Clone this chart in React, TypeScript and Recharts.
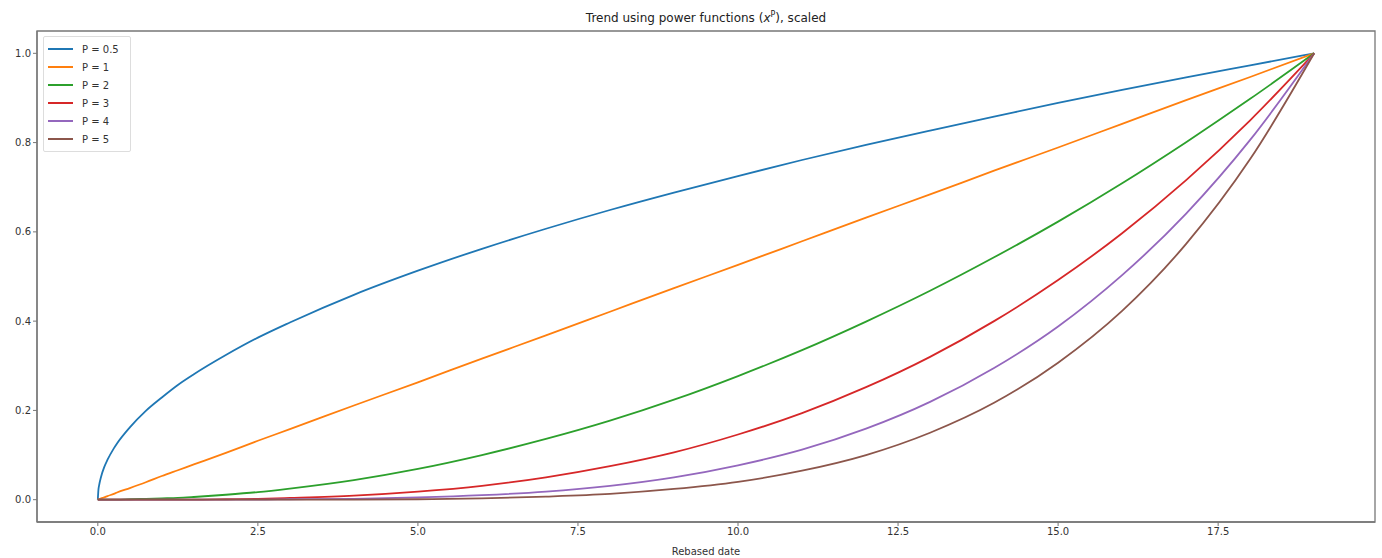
import { LineChart, Line, XAxis, YAxis, ReferenceArea } from "recharts";

const X_VALUES = [
  0, 0.01, 0.02, 0.05, 0.1, 0.15, 0.25, 0.3, 0.5, 0.75, 1, 1.25, 1.5, 2, 2.5,
  3, 4, 5, 6, 7, 8, 9, 10, 11, 12, 13, 14, 15, 16, 17, 18, 19,
];

const P_05 = [
  0, 0.023, 0.032, 0.051, 0.073, 0.089, 0.115, 0.126, 0.162, 0.199, 0.229,
  0.257, 0.281, 0.324, 0.363, 0.397, 0.459, 0.513, 0.562, 0.607, 0.649, 0.688,
  0.725, 0.761, 0.795, 0.827, 0.858, 0.889, 0.918, 0.946, 0.973, 1,
];
const P_1 = [
  0, 0.001, 0.001, 0.003, 0.005, 0.008, 0.013, 0.016, 0.026, 0.039, 0.053,
  0.066, 0.079, 0.105, 0.132, 0.158, 0.211, 0.263, 0.316, 0.368, 0.421, 0.474,
  0.526, 0.579, 0.632, 0.684, 0.737, 0.789, 0.842, 0.895, 0.947, 1,
];
const P_2 = [
  0, 0, 0, 0, 0, 0, 0, 0, 0.001, 0.002, 0.003, 0.004, 0.006, 0.011, 0.017,
  0.025, 0.044, 0.069, 0.1, 0.136, 0.177, 0.224, 0.277, 0.335, 0.399, 0.468,
  0.543, 0.623, 0.709, 0.801, 0.898, 1,
];
const P_3 = [
  0, 0, 0, 0, 0, 0, 0, 0, 0, 0, 0, 0, 0, 0.001, 0.002, 0.004, 0.009, 0.018,
  0.031, 0.05, 0.075, 0.106, 0.146, 0.194, 0.252, 0.32, 0.4, 0.492, 0.597,
  0.716, 0.85, 1,
];
const P_4 = [
  0, 0, 0, 0, 0, 0, 0, 0, 0, 0, 0, 0, 0, 0, 0, 0.001, 0.002, 0.005, 0.01,
  0.018, 0.031, 0.05, 0.077, 0.112, 0.159, 0.219, 0.295, 0.388, 0.503, 0.641,
  0.806, 1,
];
const P_5 = [
  0, 0, 0, 0, 0, 0, 0, 0, 0, 0, 0, 0, 0, 0, 0, 0, 0, 0.001, 0.003, 0.007,
  0.013, 0.024, 0.04, 0.065, 0.1, 0.15, 0.217, 0.307, 0.423, 0.573, 0.763, 1,
];

const X_TICKS = [0, 2.5, 5, 7.5, 10, 12.5, 15, 17.5];
const Y_TICKS = [0, 0.2, 0.4, 0.6, 0.8, 1.0];

const SERIES = [
  { key: "p05", name: "P = 0.5", values: P_05, color: "#1f77b4" },
  { key: "p1", name: "P = 1", values: P_1, color: "#ff7f0e" },
  { key: "p2", name: "P = 2", values: P_2, color: "#2ca02c" },
  { key: "p3", name: "P = 3", values: P_3, color: "#d62728" },
  { key: "p4", name: "P = 4", values: P_4, color: "#9467bd" },
  { key: "p5", name: "P = 5", values: P_5, color: "#8c564b" },
];

const rows = X_VALUES.map((x, i) => {
  const row: { [k: string]: number } = { x };
  SERIES.forEach((s) => {
    row[s.key] = s.values[i];
  });
  return row;
});

const FONT = "'DejaVu Sans', sans-serif";
const tickStyle = { fontSize: 10, fill: "#333", fontFamily: FONT };

export default function App() {
  return (
    <div
      style={{
        position: "absolute",
        left: 0,
        top: 0,
        width: 1382,
        height: 558,
        background: "#fff",
        fontFamily: FONT,
      }}
    >
      <LineChart
        width={1382}
        height={558}
        data={rows}
        margin={{ top: 31, right: 7, bottom: 0, left: 0 }}
      >
        <XAxis
          dataKey="x"
          type="number"
          domain={[-0.95, 19.95]}
          ticks={X_TICKS}
          tickFormatter={(v: number) => v.toFixed(1)}
          tick={tickStyle}
          tickSize={4}
          height={36}
          axisLine={{ stroke: "#777", strokeWidth: 1.3 }}
          tickLine={{ stroke: "#777" }}
          allowDataOverflow
          label={{
            value: "Rebased date",
            position: "insideBottom",
            offset: 3,
            style: { fontSize: 10, fill: "#333", fontFamily: FONT },
          }}
        />
        <YAxis
          type="number"
          domain={[-0.05, 1.05]}
          ticks={Y_TICKS}
          tickFormatter={(v: number) => v.toFixed(1)}
          tick={tickStyle}
          tickSize={4}
          width={37}
          axisLine={{ stroke: "#777", strokeWidth: 1.3 }}
          tickLine={{ stroke: "#777" }}
          allowDataOverflow
        />
        <ReferenceArea
          x1={-0.95}
          x2={19.95}
          y1={-0.05}
          y2={1.05}
          fill="none"
          stroke="#777"
          strokeWidth={1.3}
          ifOverflow="visible"
        />
        {SERIES.map((s) => (
          <Line
            key={s.key}
            dataKey={s.key}
            name={s.name}
            type="monotone"
            stroke={s.color}
            strokeWidth={1.8}
            dot={false}
            activeDot={false}
            isAnimationActive={false}
          />
        ))}
      </LineChart>

      <div
        style={{
          position: "absolute",
          left: 37,
          width: 1338,
          top: 10,
          textAlign: "center",
          fontSize: 12,
          color: "#222",
        }}
      >
        Trend using power functions (<i>x</i>
        <sup style={{ fontSize: 8 }}>P</sup>), scaled
      </div>

      <div
        style={{
          position: "absolute",
          left: 43,
          top: 36,
          width: 86,
          padding: "3px 0",
          border: "1px solid #ddd",
          borderRadius: 2,
          background: "rgba(255,255,255,0.85)",
        }}
      >
        {SERIES.map((s) => (
          <div
            key={s.key}
            style={{
              display: "flex",
              alignItems: "center",
              height: 18,
              fontSize: 10,
              color: "#333",
            }}
          >
            <span
              style={{
                display: "inline-block",
                width: 25,
                height: 2,
                marginLeft: 4,
                marginRight: 9,
                background: s.color,
              }}
            />
            {s.name}
          </div>
        ))}
      </div>
    </div>
  );
}
